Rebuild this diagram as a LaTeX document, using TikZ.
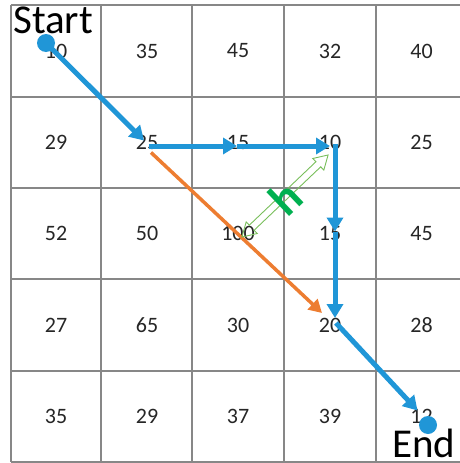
\documentclass[tikz,border=0pt]{standalone}
\usepackage{fontspec}
\setmainfont{Carlito}
\usetikzlibrary{arrows.meta,calc}
\definecolor{gridgray}{RGB}{135,135,135}
\definecolor{pathblue}{RGB}{32,150,215}
\definecolor{pathorange}{RGB}{237,125,49}
\definecolor{hgreen}{RGB}{0,176,80}
\definecolor{hlight}{RGB}{120,190,90}
\tikzset{
  gridline/.style={draw=gridgray,line width=1.6pt},
  val/.style={font=\fontsize{22}{22}\selectfont,text=black!85,inner sep=0pt},
  bluearrow/.style={draw=pathblue,line width=5pt,-{Triangle[length=14pt,width=16pt]}},
  orangearrow/.style={draw=pathorange,line width=3.5pt,-{Triangle[length=13pt,width=14pt]}},
  dot/.style={circle,fill=pathblue,inner sep=0pt,minimum size=18pt},
  bigtext/.style={font=\fontsize{41}{41}\selectfont,text=black,inner sep=0pt,anchor=base west},
  hollowarrow/.style={draw=hlight,line width=0.9pt,line join=miter},
}
\begin{document}
\begin{tikzpicture}[x=1pt,y=-1pt]
\useasboundingbox (0,0) rectangle (459,463);
% grid
\foreach \x in {11,101,192,284,376} \draw[gridline] (\x,5) -- (\x,462);
\foreach \y in {5,97,188,279,371,462} \draw[gridline] (11,\y) -- (467,\y);
% values
\node[val] (n11) at (56,51) {10};
\node[val] (n21) at (147,51) {35};
\node[val] (n31) at (238,51) {45};
\node[val] (n41) at (330,51) {32};
\node[val] (n51) at (421.5,51) {40};
\node[val] (n12) at (56,142.5) {29};
\node[val] (n22) at (147,142.5) {25};
\node[val] (n32) at (238,142.5) {15};
\node[val] (n42) at (330,142.5) {10};
\node[val] (n52) at (421.5,142.5) {25};
\node[val] (n13) at (56,233.5) {52};
\node[val] (n23) at (147,233.5) {50};
\node[val] (n33) at (238,233.5) {100};
\node[val] (n43) at (330,233.5) {15};
\node[val] (n53) at (421.5,233.5) {45};
\node[val] (n14) at (56,325) {27};
\node[val] (n24) at (147,325) {65};
\node[val] (n34) at (238,325) {30};
\node[val] (n44) at (330,325) {20};
\node[val] (n54) at (421.5,325) {28};
\node[val] (n15) at (56,416.5) {35};
\node[val] (n25) at (147,416.5) {29};
\node[val] (n35) at (238,416.5) {37};
\node[val] (n45) at (330,416.5) {39};
\node[val] (n55) at (421.5,416.5) {12};
% labels
\node[bigtext] (start) at (13,33) {Start};
\node[bigtext] (end) at (392,457) {End};
% dots
\node[dot] (sd) at (46,43) {};
\node[dot] (ed) at (428,425) {};
% orange path
\draw[orangearrow] ($(n22)+(4,10)$) -- ($(n44)+(-8,-12)$);
% green hollow double arrow
\begin{scope}[shift={(285,196)},rotate=43.6]
\draw[hollowarrow] (-59.5,0) -- (-46,8) -- (-46,3.5) -- (46,3.5) -- (46,8) -- (59.5,0)
  -- (46,-8) -- (46,-3.5) -- (-46,-3.5) -- (-46,-8) -- cycle;
\end{scope}
\node[text=hgreen,font=\fontsize{47}{47}\selectfont\bfseries,rotate=43.6,inner sep=0pt] (h) at (285,198) {h};
% blue path
\draw[bluearrow] (sd.center) -- ($(n22)+(-3,-2)$);
\draw[bluearrow] ($(n22)+(2,3.5)$) -- ($(n32)+(-1,3.5)$);
\draw[bluearrow] ($(n32)+(-1,3.5)$) -- ($(n42)+(0,3.5)$);
\draw[bluearrow] ($(n42)+(5,1)$) -- ($(n43)+(5,-2)$);
\draw[bluearrow] ($(n43)+(5,-2)$) -- ($(n44)+(5,-7)$);
\draw[bluearrow] ($(n44)+(6,-2)$) -- ($(n55)+(-4,-6)$);
\end{tikzpicture}
\end{document}
